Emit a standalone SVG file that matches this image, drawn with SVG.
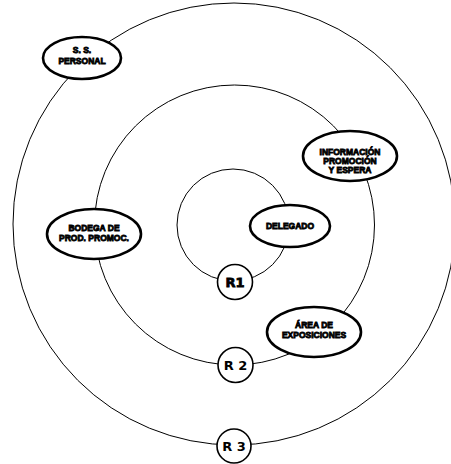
<svg xmlns="http://www.w3.org/2000/svg" width="451" height="464" viewBox="0 0 451 464">
<style>
.ring{fill:none;stroke:#000;stroke-width:1}
.node{fill:#fff;stroke:#000;stroke-width:2.6}
.rn{fill:#fff;stroke:#000;stroke-width:1.6}
.t{font-family:"Liberation Sans",Arial,sans-serif;font-weight:bold;font-size:8.5px;text-anchor:middle;fill:#000;stroke:#000;stroke-width:0.8}
.r{font-family:"DejaVu Sans",sans-serif;font-weight:bold;font-size:13px;text-anchor:middle;fill:#000}
</style>
<rect width="451" height="464" fill="#fff"/>
<g id="connectors">
<circle class="ring" cx="234" cy="224" r="221"/>
<circle class="ring" cx="234.5" cy="225" r="140"/>
<circle class="ring" cx="233" cy="225" r="56"/>
</g>
<g id="ss-personal">
<ellipse class="node" cx="82" cy="58" rx="39" ry="21"/>
<text class="t" x="82" y="53">S. S.</text>
<text class="t" x="82" y="64">PERSONAL</text>
</g>
<g id="informacion">
<ellipse class="node" cx="350" cy="156" rx="47" ry="25"/>
<text class="t" x="350" y="155">INFORMACIÓN</text>
<text class="t" x="350" y="164">PROMOCIÓN</text>
<text class="t" x="350" y="173">Y ESPERA</text>
</g>
<g id="bodega">
<ellipse class="node" cx="94" cy="234" rx="47" ry="25"/>
<text class="t" x="94" y="231">BODEGA DE</text>
<text class="t" x="94" y="241">PROD. PROMOC.</text>
</g>
<g id="delegado">
<ellipse class="node" cx="290" cy="226" rx="40" ry="21"/>
<text class="t" x="290" y="229">DELEGADO</text>
</g>
<g id="area">
<ellipse class="node" cx="314" cy="332" rx="47" ry="25"/>
<text class="t" x="314" y="328">ÁREA DE</text>
<text class="t" x="314" y="338">EXPOSICIONES</text>
</g>
<g id="r1">
<circle class="rn" cx="235" cy="282" r="17.5" stroke-width="2"/>
<text class="r" x="235" y="287" stroke="#000" stroke-width="0.8">R1</text>
</g>
<g id="r2">
<circle class="rn" cx="235.5" cy="365" r="17.5"/>
<text class="r" x="235.5" y="370">R 2</text>
</g>
<g id="r3">
<circle class="rn" cx="234" cy="446" r="17"/>
<text class="r" x="234" y="451">R 3</text>
</g>
</svg>
